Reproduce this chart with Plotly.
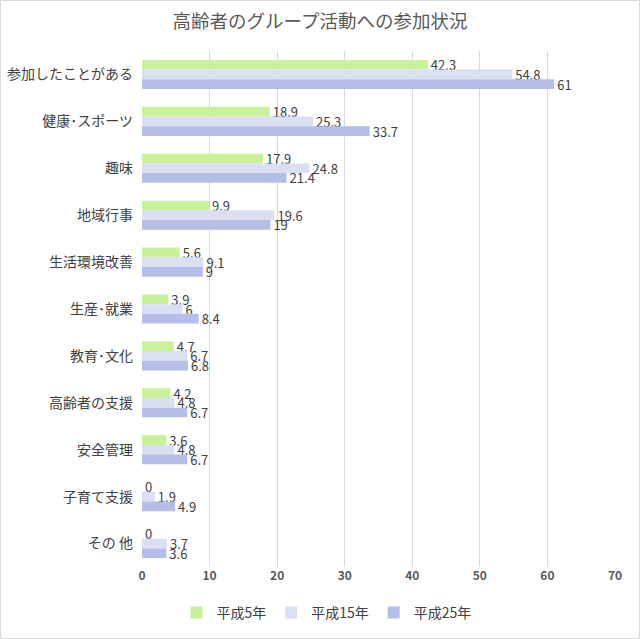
import plotly.graph_objects as go

categories = ["参加したことがある", "健康･スポーツ", "趣味", "地域行事", "生活環境改善",
              "生産･就業", "教育･文化", "高齢者の支援", "安全管理", "子育て支援", "その 他"]
h5 = [42.3, 18.9, 17.9, 9.9, 5.6, 3.9, 4.7, 4.2, 3.6, 0, 0]
h15 = [54.8, 25.3, 24.8, 19.6, 9.1, 6, 6.7, 4.8, 4.8, 1.9, 3.7]
h25 = [61, 33.7, 21.4, 19, 9, 8.4, 6.8, 6.7, 6.7, 4.9, 3.6]
series_names = ["平成5年", "平成15年", "平成25年"]
colors = ["#C9F19A", "#DADFF2", "#B5BEE7"]

FONT = "Meiryo UI, Noto Sans CJK JP, sans-serif"

fig = go.Figure()
for name, vals, col in zip(series_names, [h5, h15, h25], colors):
    fig.add_trace(go.Bar(
        y=categories, x=vals, name=name, orientation="h",
        marker=dict(color=col, line=dict(width=0)),
        text=[f"{v:g}" for v in vals], textposition="outside",
        textfont=dict(family=FONT, size=13, color="#404040"),
        constraintext="none", cliponaxis=False,
    ))

fig.update_layout(
    width=640, height=639,
    margin=dict(l=142, r=25, t=51, b=72),
    paper_bgcolor="white", plot_bgcolor="white",
    barmode="group", bargap=0.38, bargroupgap=0,
    font=dict(family=FONT, color="#404040"),
    title=dict(text="高齢者のグループ活動への参加状況", x=0.5, xref="container",
               xanchor="center", y=1 - 22 / 639, yanchor="middle",
               font=dict(family=FONT, size=18.5, color="#595959")),
    xaxis=dict(range=[0, 70], dtick=10, showgrid=True, gridcolor="#D9D9D9",
               gridwidth=1, zeroline=False, showline=False, ticks="",
               automargin=False,
               tickfont=dict(family=FONT, size=12, color="#595959", weight="bold")),
    yaxis=dict(autorange="reversed", showgrid=False, zeroline=False, showline=False,
               ticks="", ticklabelstandoff=8, automargin=False,
               tickfont=dict(family=FONT, size=14, color="#404040")),
    legend=dict(orientation="h", xref="container", yref="container",
                x=0.51, xanchor="center", y=1 - 613 / 639, yanchor="middle",
                font=dict(family=FONT, size=14, color="#404040"),
                itemwidth=30, traceorder="normal"),
    shapes=[dict(type="rect", xref="paper", yref="paper",
                 x0=-141.5 / 473, x1=1 + 24.5 / 473,
                 y0=-71.5 / 516, y1=1 + 50.5 / 516,
                 line=dict(color="#D9D9D9", width=1), fillcolor="rgba(0,0,0,0)",
                 layer="below")],
)

fig.write_html("out.html")
